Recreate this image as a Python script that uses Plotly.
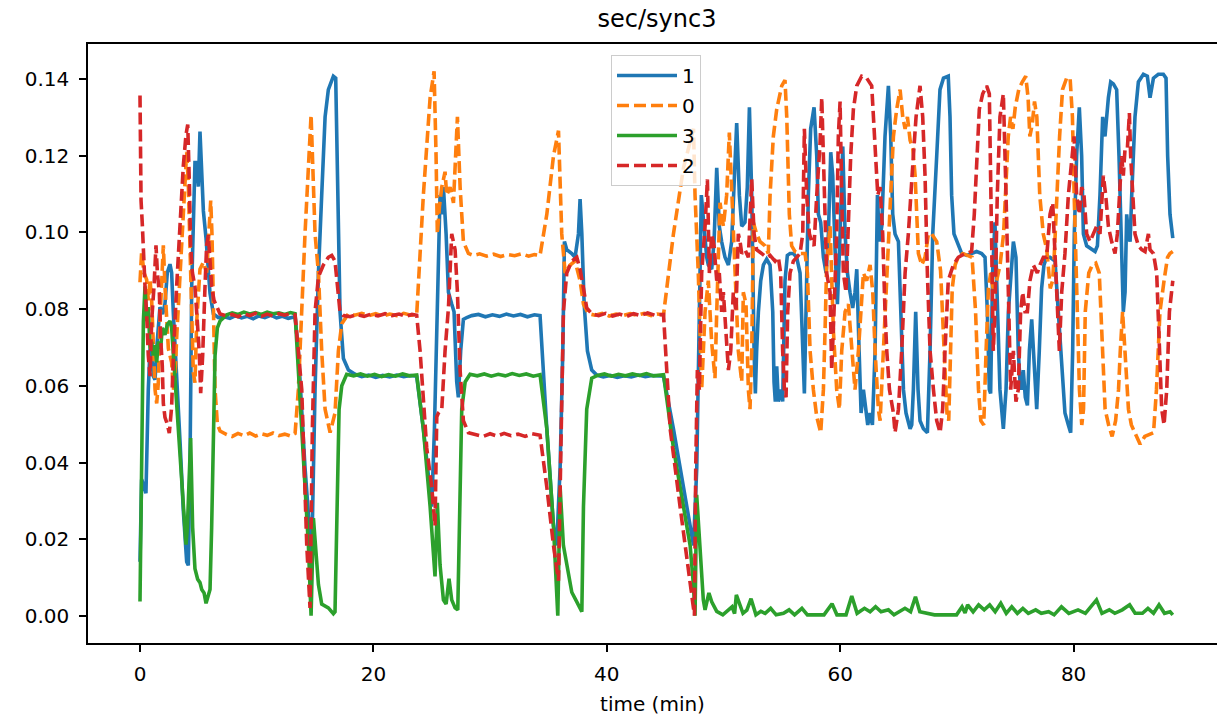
import plotly.graph_objects as go

# ---------------- data (time in minutes, value in sec) ----------------
t_s1 = [0.00, 0.14, 0.34, 0.51, 0.71, 0.86, 1.00, 1.14, 1.29, 1.43, 1.71, 1.94, 2.14, 2.34, 2.57, 2.71, 2.86, 3.14, 3.43, 3.71,
        4.00, 4.14, 4.29, 4.43, 4.57, 4.71, 4.86, 5.00, 5.14, 5.29, 5.43, 5.66, 5.86, 6.00, 6.29, 6.71,
        7.2, 7.7, 8.2, 8.7, 9.2, 9.7, 10.2, 10.7, 11.2, 11.7, 12.2, 12.7, 13.29,
        13.57, 14.14, 14.57, 14.71, 15.00, 15.29, 15.57, 15.86, 16.14, 16.57, 16.77, 16.94, 17.14, 17.43, 17.86, 18.43,
        19.0, 19.6, 20.2, 20.8, 21.4, 22.0, 22.6, 23.2, 23.71,
        24.28, 25.00, 25.23, 25.48, 25.71, 25.86, 26.00, 26.23, 26.43, 26.71, 26.91, 27.14, 27.28, 27.48, 27.71, 28.00, 28.43,
        29.0, 29.6, 30.2, 30.8, 31.4, 32.0, 32.6, 33.2, 33.8, 34.28,
        34.86, 35.43, 35.71, 36.00, 36.23, 36.37, 36.57, 37.00, 37.28, 37.57, 37.71, 37.86, 38.06, 38.34, 38.71, 39.14,
        39.7, 40.3, 40.9, 41.5, 42.1, 42.7, 43.3, 43.9, 44.86,
        45.71, 46.57, 47.43, 47.71, 47.94, 48.10,
        48.33, 48.56, 48.70, 48.99, 49.19, 49.42, 49.64, 49.84, 50.13, 50.42, 50.70, 50.99, 51.13, 51.36, 51.56, 51.84, 52.04,
        52.22, 52.42, 52.62, 52.73, 52.84, 52.99, 53.19, 53.42, 53.70, 53.99, 54.22, 54.33, 54.44, 54.56, 54.70, 54.90, 55.07,
        55.27, 55.47, 55.70, 55.99, 56.27, 56.56, 56.79, 56.93, 57.07, 57.27, 57.47, 57.76, 57.99, 58.13, 58.33, 58.56, 58.79,
        58.99, 59.19, 59.36, 59.56, 59.76, 59.99, 60.22, 60.42, 60.62, 60.84, 61.07, 61.27, 61.42, 61.62, 61.79, 61.99, 62.19,
        62.36, 62.56, 62.76, 62.99, 63.19, 63.36, 63.56, 63.84, 64.13, 64.33, 64.50, 64.70, 64.99, 65.42, 65.64, 65.99, 66.13,
        66.27, 66.47, 66.67, 66.84, 67.13, 67.47, 67.70, 67.93, 68.27, 68.55, 68.85, 69.26,
        69.41, 69.55, 69.75, 70.12, 70.41, 70.84, 71.26, 71.69, 72.12, 72.41, 72.61, 72.78, 72.89, 73.06, 73.26, 73.46, 73.69,
        73.98, 74.21, 74.41, 74.61, 74.84, 75.06, 75.26, 75.41, 75.55, 75.69, 75.86, 76.04, 76.21, 76.41, 76.61, 76.84, 77.06,
        77.26, 77.46, 77.69, 77.98, 78.41, 78.69, 78.98, 79.26, 79.55, 79.75, 79.92, 80.06, 80.26, 80.49, 80.69, 80.84, 81.12,
        81.55, 81.84, 82.04, 82.26, 82.49, 82.69, 82.98, 83.18, 83.41, 83.69, 83.89, 84.04, 84.18, 84.26, 84.41, 84.55, 84.69,
        84.84, 84.98, 85.26, 85.55, 85.98, 86.32, 86.55, 86.84, 87.26, 87.69, 87.92, 88.06, 88.26, 88.50]
v_s1 = [0.0141, 0.0356, 0.0338, 0.0320, 0.0590, 0.0697, 0.0679, 0.0625, 0.0616, 0.0697, 0.0805, 0.0787, 0.0814, 0.0895, 0.0917, 0.0895, 0.0787, 0.0634, 0.0455, 0.0275,
        0.0141, 0.0132, 0.0410, 0.0859, 0.1038, 0.1182, 0.1182, 0.1119, 0.1263, 0.1173, 0.1056, 0.0984, 0.0904, 0.0841, 0.0787, 0.0778,
        0.0780, 0.0776, 0.0783, 0.0777, 0.0781, 0.0775, 0.0782, 0.0778, 0.0784, 0.0777, 0.0781, 0.0776, 0.0780,
        0.0691, 0.0387, 0.0184, 0.0150, 0.0590, 0.0894, 0.1097, 0.1301, 0.1372, 0.1407, 0.1402, 0.1097, 0.0793, 0.0671, 0.0641, 0.0630,
        0.0624, 0.0628, 0.0622, 0.0627, 0.0623, 0.0628, 0.0624, 0.0627, 0.0625,
        0.0488, 0.0285, 0.0488, 0.0793, 0.1097, 0.1047, 0.1118, 0.0996, 0.0844, 0.0813, 0.0793, 0.0610, 0.0570, 0.0691, 0.0773, 0.0778, 0.0783,
        0.0786, 0.0780, 0.0785, 0.0781, 0.0787, 0.0782, 0.0786, 0.0780, 0.0785, 0.0783,
        0.0488, 0.0235, 0.0184, 0.0387, 0.0691, 0.0976, 0.0955, 0.0945, 0.0935, 0.0996, 0.1087, 0.0996, 0.0813, 0.0691, 0.0641, 0.0628,
        0.0623, 0.0627, 0.0622, 0.0626, 0.0623, 0.0628, 0.0624, 0.0627, 0.0625,
        0.0488, 0.0336, 0.0184, 0.0387, 0.0793, 0.1097,
        0.1016, 0.0935, 0.0915, 0.0904, 0.0976, 0.1168, 0.1016, 0.0976, 0.0935, 0.0915, 0.0976, 0.1219, 0.1285, 0.1097, 0.1016, 0.1026, 0.1118,
        0.1326, 0.1097, 0.0691, 0.0580, 0.0691, 0.0793, 0.0874, 0.0915, 0.0930, 0.0915, 0.0793, 0.0610, 0.0559, 0.0651, 0.0559, 0.0590, 0.0559,
        0.0874, 0.0940, 0.0945, 0.0945, 0.0935, 0.0894, 0.0691, 0.0580, 0.0793, 0.1097, 0.1270, 0.1326, 0.1199, 0.1047, 0.1026, 0.0935, 0.0894,
        0.0996, 0.1209, 0.1148, 0.0955, 0.0813, 0.0996, 0.1224, 0.0996, 0.0894, 0.0844, 0.0803, 0.0844, 0.0904, 0.0691, 0.0529, 0.0590, 0.0529,
        0.0498, 0.0529, 0.0498, 0.0691, 0.1097, 0.0976, 0.1016, 0.1250, 0.1382, 0.1250, 0.1047, 0.0996, 0.0976, 0.0590, 0.0529, 0.0488, 0.0498,
        0.0590, 0.0793, 0.0590, 0.0509, 0.0488, 0.0478, 0.0691, 0.0996, 0.1199, 0.1372, 0.1402, 0.1407,
        0.1301, 0.1097, 0.0996, 0.0965, 0.0945, 0.0940, 0.0945, 0.0950, 0.0945, 0.0935, 0.0793, 0.0590, 0.0580, 0.0894, 0.1026, 0.0793, 0.0590,
        0.0488, 0.0590, 0.0793, 0.0894, 0.0976, 0.0935, 0.0691, 0.0610, 0.0590, 0.0641, 0.0570, 0.0549, 0.0691, 0.0773, 0.0641, 0.0539, 0.0691,
        0.0854, 0.0915, 0.0935, 0.0935, 0.0925, 0.0793, 0.0641, 0.0529, 0.0498, 0.0478, 0.0691, 0.0996, 0.1199, 0.1326, 0.1199, 0.0996, 0.0965,
        0.0955, 0.0950, 0.0965, 0.1097, 0.1301, 0.1250, 0.1351, 0.1392, 0.1387, 0.1372, 0.1199, 0.0996, 0.0894, 0.0793, 0.0844, 0.1047, 0.0996,
        0.0976, 0.1097, 0.1301, 0.1392, 0.1412, 0.1407, 0.1351, 0.1402, 0.1412, 0.1412, 0.1402, 0.1199, 0.1047, 0.0985]

t_s0 = [0.00, 0.14, 0.34, 0.57, 0.71, 0.86, 1.00, 1.14, 1.29, 1.43, 1.57, 1.71, 1.86, 2.00, 2.14, 2.29, 2.43, 2.57, 2.71, 2.86,
        3.00, 3.14, 3.43, 3.71, 4.00, 4.14, 4.29, 4.43, 4.57, 4.71, 4.86, 5.14, 5.43, 5.71, 5.94, 6.06, 6.17, 6.29, 6.43, 6.63,
        6.86, 7.43,
        7.9, 8.4, 8.9, 9.4, 9.9, 10.4, 10.9, 11.4, 11.9, 12.4, 12.9, 13.29,
        13.57, 14.14, 14.66, 15.00, 15.29, 15.57, 15.86, 16.29, 16.71, 17.00, 17.29, 17.86,
        18.4, 19.0, 19.6, 20.2, 20.8, 21.4, 22.0, 22.6, 23.2, 23.71,
        24.28, 24.86, 25.20, 25.37, 25.48, 25.66, 25.86, 26.14, 26.28, 26.57, 26.86, 27.20, 27.43, 27.71, 28.14, 28.57,
        29.1, 29.7, 30.3, 30.9, 31.5, 32.1, 32.7, 33.3, 33.8, 34.28,
        34.86, 35.43, 35.86, 36.14, 36.43, 36.86, 37.28, 37.71, 38.00, 38.43,
        39.0, 39.6, 40.2, 40.8, 41.4, 42.0, 42.6, 43.2, 43.8, 44.3, 44.86,
        45.71, 46.57, 47.43, 47.56, 47.84, 48.13, 48.42, 48.70, 48.99, 49.27, 49.42, 49.70, 49.99, 50.27, 50.50, 50.70, 50.99,
        51.27, 51.56, 51.70, 51.93, 52.13, 52.27, 52.42, 52.56, 52.84, 53.13, 53.56, 53.84, 53.99, 54.27, 54.56, 54.99, 55.27,
        55.42, 55.64, 55.84, 56.13, 56.56, 56.99, 57.19, 57.42, 57.70, 57.99, 58.33, 58.56, 58.70, 58.84, 59.13, 59.27, 59.42,
        59.70, 59.93, 60.13, 60.42, 60.70, 60.99, 61.27, 61.56, 61.84, 61.99, 62.27, 62.56, 62.79, 62.99, 63.27, 63.42, 63.70,
        63.99, 64.27, 64.56, 64.84, 65.13, 65.36, 65.56, 65.76, 65.99, 66.22, 66.42, 66.70, 66.99, 67.27, 67.56, 67.84, 68.27,
        68.60, 68.90, 69.15, 69.30, 69.45, 69.60, 69.85, 70.10, 70.50, 70.90, 71.30, 71.60, 71.85, 72.05, 72.30, 72.50, 72.70,
        72.90, 73.10, 73.40, 73.70, 74.00, 74.20, 74.40, 74.60, 74.80, 75.00, 75.30, 75.60, 75.90, 76.10, 76.25, 76.45, 76.65,
        76.85, 77.10, 77.40, 77.70, 78.00, 78.20, 78.35, 78.55, 78.80, 79.05, 79.40, 79.70, 79.90, 80.05, 80.30, 80.50, 80.70,
        80.85, 81.00, 81.30, 81.60, 81.90, 82.20, 82.50, 82.70, 83.00, 83.30, 83.60, 83.85, 84.00, 84.20, 84.40, 84.70, 84.95,
        85.40, 85.70, 86.10, 86.50, 86.85, 87.10, 87.40, 87.75, 88.05, 88.25, 88.50]
v_s0 = [0.0870, 0.0949, 0.0895, 0.0877, 0.0823, 0.0877, 0.0823, 0.0724, 0.0590, 0.0554, 0.0608, 0.0769, 0.0895, 0.0966, 0.0859, 0.0769, 0.0697, 0.0679, 0.0661, 0.0590,
        0.0616, 0.0724, 0.0904, 0.1056, 0.1210, 0.1128, 0.0949, 0.0859, 0.0634, 0.0608, 0.0769, 0.0904, 0.0922, 0.0895, 0.1038, 0.1083, 0.0993, 0.0769, 0.0590, 0.0500,
        0.0482, 0.0473,
        0.0468, 0.0476, 0.0470, 0.0477, 0.0469, 0.0475, 0.0471, 0.0477, 0.0470, 0.0474, 0.0469, 0.0476,
        0.0590, 0.0996, 0.1306, 0.0996, 0.0894, 0.0691, 0.0539, 0.0478, 0.0529, 0.0691, 0.0762, 0.0788,
        0.0784, 0.0789, 0.0783, 0.0788, 0.0782, 0.0787, 0.0783, 0.0789, 0.0784, 0.0786,
        0.1097, 0.1351, 0.1420, 0.1199, 0.0996, 0.1067, 0.1118, 0.1158, 0.1097, 0.1118, 0.1077, 0.1301, 0.1118, 0.0976, 0.0945, 0.0940,
        0.0944, 0.0938, 0.0943, 0.0937, 0.0942, 0.0939, 0.0944, 0.0938, 0.0942, 0.0940,
        0.1047, 0.1199, 0.1265, 0.0996, 0.0894, 0.0915, 0.0925, 0.0874, 0.0813, 0.0788,
        0.0784, 0.0789, 0.0782, 0.0787, 0.0783, 0.0788, 0.0784, 0.0789, 0.0783, 0.0787, 0.0785,
        0.0996, 0.1168, 0.1270, 0.1097, 0.0894, 0.0590, 0.0793, 0.0874, 0.0712, 0.0620, 0.0793, 0.1077, 0.1016, 0.1097, 0.1260, 0.1097, 0.0894,
        0.0691, 0.0610, 0.0844, 0.0813, 0.0590, 0.0539, 0.0691, 0.1026, 0.0996, 0.0976, 0.0965, 0.0945, 0.1097, 0.1250, 0.1321, 0.1382, 0.1397,
        0.1301, 0.1047, 0.0965, 0.0950, 0.0945, 0.0945, 0.0894, 0.0691, 0.0590, 0.0519, 0.0478, 0.0590, 0.0742, 0.0915, 0.1016, 0.0894, 0.0742,
        0.0590, 0.0539, 0.0691, 0.0793, 0.0813, 0.0691, 0.0590, 0.0691, 0.0844, 0.0894, 0.0874, 0.0915, 0.0844, 0.0691, 0.0539, 0.0509, 0.0691,
        0.0894, 0.1097, 0.1250, 0.1321, 0.1372, 0.1301, 0.1270, 0.1301, 0.1240, 0.1219, 0.1148, 0.0945, 0.0915, 0.0935, 0.0996, 0.0996, 0.0976,
        0.0900, 0.0691, 0.0529, 0.0509, 0.0691, 0.0854, 0.0915, 0.0935, 0.0945, 0.0940, 0.0935, 0.0793, 0.0590, 0.0509, 0.0498, 0.0691, 0.0854,
        0.0894, 0.0854, 0.0874, 0.0915, 0.0996, 0.1148, 0.1250, 0.1301, 0.1270, 0.1326, 0.1372, 0.1392, 0.1407, 0.1351, 0.1250, 0.1280, 0.1341,
        0.1301, 0.1097, 0.0996, 0.0955, 0.0854, 0.0874, 0.0945, 0.1097, 0.1250, 0.1372, 0.1402, 0.1402, 0.1301, 0.1097, 0.0793, 0.0590, 0.0498,
        0.0539, 0.0793, 0.0894, 0.0915, 0.0920, 0.0894, 0.0691, 0.0539, 0.0498, 0.0468, 0.0509, 0.0590, 0.0691, 0.0793, 0.0691, 0.0539, 0.0498,
        0.0468, 0.0448, 0.0468, 0.0473, 0.0478, 0.0590, 0.0793, 0.0874, 0.0935, 0.0945, 0.0950]

t_s3 = [0.00, 0.14, 0.29, 0.43, 0.57, 0.71, 0.86, 1.00, 1.14, 1.29, 1.43, 1.57, 1.77, 1.91, 2.14, 2.34, 2.57, 2.71, 2.86, 3.14,
        3.43, 3.71, 3.94, 4.06, 4.17, 4.34, 4.51, 4.71, 4.94, 5.14, 5.29, 5.49, 5.66, 5.86, 6.00, 6.14, 6.29, 6.43, 6.63, 6.86, 7.43,
        7.9, 8.4, 8.9, 9.4, 9.9, 10.4, 10.9, 11.4, 11.9, 12.4, 12.9, 13.29,
        13.86, 14.43, 14.66, 14.86, 15.29, 15.57, 16.14, 16.57, 16.71, 16.86, 17.06, 17.29, 17.71,
        18.3, 18.9, 19.5, 20.1, 20.7, 21.3, 21.9, 22.5, 23.1, 23.71,
        24.28, 24.86, 25.28, 25.48, 25.71, 26.00, 26.23, 26.48, 26.71, 27.00, 27.23, 27.37, 27.57, 27.86, 28.28,
        28.9, 29.5, 30.1, 30.7, 31.3, 31.9, 32.5, 33.1, 33.7, 34.28,
        34.86, 35.43, 35.80, 36.00, 36.28, 36.57, 37.00, 37.43, 37.71, 37.86, 38.00, 38.28, 38.71,
        39.2, 39.8, 40.4, 41.0, 41.6, 42.2, 42.8, 43.4, 44.0, 44.86,
        45.71, 46.57, 47.14, 47.42, 47.56, 47.70, 47.99, 48.27, 48.42, 48.75, 48.99, 49.42, 49.94, 50.73, 50.95, 51.10, 51.67,
        52.00, 52.36, 52.78, 53.20, 53.57, 54.04, 54.51, 55.14, 55.62, 56.09, 56.72, 57.19, 58.61, 59.30, 59.72, 60.50, 60.99,
        61.45, 62.08, 62.56, 63.03, 63.50, 64.13, 64.61, 65.55, 66.03, 66.45, 66.82, 67.45, 68.08, 69.97, 70.44, 70.70, 70.92,
        71.39, 71.86, 72.34, 72.81, 73.28, 73.76, 74.23, 74.70, 75.18, 75.65, 76.12, 76.75, 77.23, 77.86, 78.33, 78.96, 79.59,
        80.38, 81.01, 81.96, 82.43, 83.06, 83.53, 84.17, 84.80, 85.27, 85.90, 86.37, 86.85, 87.32, 87.79, 88.27, 88.50]
v_s3 = [0.0038, 0.0410, 0.0769, 0.0859, 0.0769, 0.0805, 0.0697, 0.0715, 0.0679, 0.0706, 0.0661, 0.0715, 0.0697, 0.0751, 0.0733, 0.0760, 0.0769, 0.0751, 0.0679, 0.0545,
        0.0410, 0.0275, 0.0186, 0.0231, 0.0320, 0.0464, 0.0231, 0.0123, 0.0096, 0.0087, 0.0069, 0.0060, 0.0033, 0.0060, 0.0069, 0.0231, 0.0500, 0.0679, 0.0751, 0.0769, 0.0785,
        0.0790, 0.0786, 0.0792, 0.0787, 0.0791, 0.0786, 0.0792, 0.0788, 0.0790, 0.0786, 0.0791, 0.0788,
        0.0488, 0.0184, 0.0001, 0.0255, 0.0082, 0.0031, 0.0021, 0.0006, 0.0011, 0.0285, 0.0539, 0.0600, 0.0630,
        0.0626, 0.0631, 0.0625, 0.0630, 0.0624, 0.0629, 0.0625, 0.0631, 0.0626, 0.0628,
        0.0488, 0.0285, 0.0103, 0.0295, 0.0133, 0.0042, 0.0031, 0.0097, 0.0042, 0.0021, 0.0016, 0.0285, 0.0539, 0.0610, 0.0630,
        0.0626, 0.0631, 0.0625, 0.0630, 0.0626, 0.0632, 0.0627, 0.0631, 0.0625, 0.0629,
        0.0488, 0.0235, 0.0001, 0.0336, 0.0184, 0.0133, 0.0062, 0.0037, 0.0021, 0.0011, 0.0285, 0.0539, 0.0620,
        0.0627, 0.0631, 0.0625, 0.0630, 0.0626, 0.0631, 0.0627, 0.0632, 0.0626, 0.0629,
        0.0438, 0.0285, 0.0184, 0.0082, 0.0001, 0.0316, 0.0184, 0.0042, 0.0016, 0.0060, 0.0037, 0.0012, 0.0003, 0.0024, 0.0006, 0.0055, 0.0007,
        0.0015, 0.0045, 0.0003, 0.0012, 0.0007, 0.0020, 0.0003, 0.0007, 0.0016, 0.0003, 0.0020, 0.0003, 0.0003, 0.0032, 0.0003, 0.0003, 0.0052,
        0.0007, 0.0020, 0.0011, 0.0024, 0.0011, 0.0016, 0.0003, 0.0020, 0.0011, 0.0050, 0.0011, 0.0007, 0.0003, 0.0003, 0.0024, 0.0008, 0.0029,
        0.0011, 0.0029, 0.0016, 0.0029, 0.0011, 0.0033, 0.0007, 0.0024, 0.0007, 0.0020, 0.0007, 0.0016, 0.0007, 0.0011, 0.0003, 0.0024, 0.0007,
        0.0016, 0.0007, 0.0042, 0.0007, 0.0016, 0.0007, 0.0016, 0.0029, 0.0007, 0.0007, 0.0020, 0.0007, 0.0029, 0.0007, 0.0011, 0.0003]

t_s2 = [0.00, 0.09, 0.20, 0.29, 0.43, 0.57, 0.71, 0.86, 1.00, 1.20, 1.37, 1.49, 1.66, 1.77, 1.91, 2.00, 2.14, 2.34, 2.51, 2.71,
        2.86, 3.14, 3.43, 3.71, 3.94, 4.09, 4.23, 4.34, 4.49, 4.71, 4.91, 5.09, 5.20, 5.37, 5.57, 5.71, 5.86, 6.00, 6.14, 6.34,
        6.57, 6.86, 7.43,
        7.9, 8.4, 8.9, 9.4, 9.9, 10.4, 10.9, 11.4, 11.9, 12.4, 12.9, 13.29,
        13.86, 14.29, 14.57, 14.77, 15.00, 15.29, 15.71, 16.14, 16.43, 16.71, 16.94, 17.14, 17.43,
        18.0, 18.6, 19.2, 19.8, 20.4, 21.0, 21.6, 22.2, 22.8, 23.3, 23.71,
        24.00, 24.57, 25.00, 25.28, 25.43, 25.57, 25.86, 26.14, 26.43, 26.71, 27.00, 27.20, 27.43, 27.71, 28.14, 28.86,
        29.4, 30.0, 30.6, 31.2, 31.8, 32.4, 33.0, 33.6, 34.28,
        34.86, 35.43, 35.86, 36.14, 36.28, 36.57, 37.00, 37.43, 37.71, 38.00, 38.28, 38.71,
        39.3, 39.9, 40.5, 41.1, 41.7, 42.3, 42.9, 43.5, 44.1, 44.86,
        45.43, 46.28, 47.14, 47.51, 47.62, 47.76, 47.93, 48.13, 48.42, 48.62, 48.79, 48.99, 49.19, 49.42, 49.64, 49.84, 49.99,
        50.22, 50.42, 50.62, 50.84, 51.07, 51.27, 51.42, 51.56, 51.84, 52.13, 52.42, 52.62, 52.84, 53.27, 53.70, 53.99, 54.42,
        54.70, 54.90, 55.07, 55.22, 55.36, 55.50, 55.70, 55.99, 56.27, 56.56, 56.79, 56.93, 57.13, 57.36, 57.56, 57.76, 57.99,
        58.27, 58.42, 58.62, 58.84, 59.13, 59.27, 59.47, 59.70, 59.84, 59.99, 60.13, 60.27, 60.50, 60.70, 60.90, 61.13, 61.42,
        61.84, 62.27, 62.70, 62.99, 63.22, 63.42, 63.64, 63.84, 63.99, 64.22, 64.56, 64.70, 64.99, 65.27, 65.56, 65.84, 66.13,
        66.27, 66.50, 66.84, 67.07, 67.27, 67.47, 67.70, 67.99, 68.27, 68.56, 68.78, 68.98, 69.26, 69.69, 70.12, 70.41, 70.84,
        71.26, 71.49, 71.69, 71.92, 72.21, 72.55, 72.78, 72.98, 73.12, 73.26, 73.46, 73.69, 73.98, 74.21, 74.41, 74.61, 74.84,
        75.06, 75.26, 75.46, 75.64, 75.84, 76.04, 76.26, 76.55, 76.89, 77.12, 77.41, 77.69, 77.98, 78.21, 78.41, 78.61, 78.78,
        78.98, 79.26, 79.55, 79.84, 80.04, 80.26, 80.49, 80.69, 80.89, 81.12, 81.41, 81.69, 81.98, 82.26, 82.55, 82.75, 82.98,
        83.26, 83.55, 83.75, 83.92, 84.12, 84.26, 84.41, 84.61, 84.78, 84.89, 85.06, 85.26, 85.55, 85.84, 86.12, 86.41, 86.55,
        86.84, 87.12, 87.35, 87.55, 87.75, 87.98, 88.21, 88.50]
v_s2 = [0.1357, 0.1083, 0.1020, 0.0931, 0.0859, 0.0787, 0.0679, 0.0625, 0.0769, 0.0859, 0.0966, 0.0895, 0.0841, 0.0724, 0.0652, 0.0554, 0.0518, 0.0500, 0.0477, 0.0545,
        0.0679, 0.0859, 0.1038, 0.1173, 0.1254, 0.1281, 0.1128, 0.0966, 0.0895, 0.0859, 0.0769, 0.0679, 0.0581, 0.0679, 0.0859, 0.0966, 0.0993, 0.0931, 0.0859, 0.0823,
        0.0805, 0.0787, 0.0782,
        0.0786, 0.0780, 0.0788, 0.0783, 0.0789, 0.0781, 0.0787, 0.0782, 0.0788, 0.0784, 0.0789, 0.0785,
        0.0590, 0.0184, 0.0021, 0.0488, 0.0793, 0.0884, 0.0915, 0.0935, 0.0940, 0.0925, 0.0854, 0.0793, 0.0783,
        0.0780, 0.0786, 0.0781, 0.0787, 0.0782, 0.0788, 0.0783, 0.0787, 0.0781, 0.0786, 0.0784,
        0.0691, 0.0438, 0.0336, 0.0235, 0.0519, 0.0529, 0.0539, 0.0691, 0.0803, 0.0996, 0.0955, 0.0844, 0.0641, 0.0509, 0.0478, 0.0473,
        0.0468, 0.0475, 0.0469, 0.0476, 0.0470, 0.0474, 0.0468, 0.0475, 0.0471,
        0.0336, 0.0184, 0.0092, 0.0488, 0.0793, 0.0894, 0.0925, 0.0935, 0.0904, 0.0854, 0.0803, 0.0788,
        0.0783, 0.0789, 0.0782, 0.0787, 0.0781, 0.0788, 0.0783, 0.0790, 0.0784, 0.0786,
        0.0488, 0.0285, 0.0082, 0.0001, 0.0387, 0.0641, 0.0590, 0.0894, 0.1016, 0.1138, 0.0894, 0.0996, 0.0965, 0.0874, 0.0894, 0.0793, 0.0844,
        0.0742, 0.0641, 0.0691, 0.0844, 0.0793, 0.0996, 0.0976, 0.0945, 0.0955, 0.0935, 0.1138, 0.0996, 0.0955, 0.0945, 0.0935, 0.0940, 0.0925,
        0.0935, 0.0894, 0.0691, 0.0590, 0.0570, 0.0793, 0.0894, 0.0925, 0.0935, 0.0945, 0.0996, 0.1270, 0.1097, 0.0996, 0.0976, 0.0965, 0.1097,
        0.1230, 0.1351, 0.1097, 0.0894, 0.0844, 0.0641, 0.0793, 0.0996, 0.1250, 0.1341, 0.1097, 0.0894, 0.0844, 0.1016, 0.1199, 0.1321, 0.1382,
        0.1407, 0.1402, 0.1382, 0.1199, 0.1097, 0.1118, 0.0996, 0.0793, 0.0691, 0.0590, 0.0529, 0.0478, 0.0539, 0.0691, 0.0894, 0.0996, 0.1148,
        0.1199, 0.1301, 0.1382, 0.1301, 0.1148, 0.0894, 0.0691, 0.0590, 0.0509, 0.0478, 0.0539, 0.0691, 0.0874, 0.0915, 0.0935, 0.0940, 0.0945,
        0.0950, 0.1047, 0.1199, 0.1321, 0.1361, 0.1382, 0.1361, 0.0996, 0.0691, 0.0793, 0.1097, 0.1301, 0.1361, 0.1097, 0.0793, 0.0590, 0.0691,
        0.0559, 0.0590, 0.0793, 0.0844, 0.0793, 0.0793, 0.0874, 0.0915, 0.0894, 0.0915, 0.0935, 0.0935, 0.1047, 0.1077, 0.0945, 0.0793, 0.0691,
        0.0844, 0.0945, 0.1097, 0.1199, 0.1250, 0.1097, 0.1047, 0.1118, 0.1097, 0.0996, 0.0976, 0.0996, 0.1016, 0.0996, 0.1148, 0.1097, 0.1016,
        0.0976, 0.0945, 0.0996, 0.1077, 0.1199, 0.1148, 0.1219, 0.1219, 0.1311, 0.1199, 0.1097, 0.0996, 0.0965, 0.0955, 0.0950, 0.0996, 0.0955,
        0.0945, 0.0894, 0.0691, 0.0539, 0.0498, 0.0590, 0.0793, 0.0874]

series_names = ["1", "0", "3", "2"]
series_colors = ["#1f77b4", "#ff7f0e", "#2ca02c", "#d62728"]
series_dash = ["solid", "12px,5px", "solid", "12px,5px"]
series_t = [t_s1, t_s0, t_s3, t_s2]
series_v = [v_s1, v_s0, v_s3, v_s2]

x_ticks = [0, 20, 40, 60, 80]
y_ticks = [0.00, 0.02, 0.04, 0.06, 0.08, 0.10, 0.12, 0.14]

FONT = "DejaVu Sans"

fig = go.Figure()
for i, name in enumerate(series_names):
    fig.add_trace(go.Scatter(
        x=series_t[i], y=series_v[i], mode="lines", name=name,
        legendgroup=name,
        line=dict(color=series_colors[i], width=3.6, dash=series_dash[i]),
    ))

fig.update_layout(
    width=1217, height=718,
    margin=dict(l=88, r=0, t=44, b=75, pad=0, autoexpand=False),
    paper_bgcolor="white", plot_bgcolor="white",
    font=dict(family=FONT, size=20, color="black"),
    title=dict(text="sec/sync3", x=0.504, xanchor="center", xref="paper",
               y=1 - 19 / 718, yanchor="middle", yref="container", automargin=False,
               font=dict(family=FONT, size=24, color="black")),
    showlegend=True,
    legend=dict(x=(611 - 88) / 1129, y=(643 - 55) / 599, xanchor="left", yanchor="top",
                bgcolor="rgba(255,255,255,0.8)", bordercolor="#cccccc", borderwidth=1,
                font=dict(family=FONT, size=20, color="black"),
                traceorder="grouped", tracegroupgap=1, itemwidth=60),
)

fig.update_xaxes(
    range=[(88 - 140) / 11.67, (1217 - 140) / 11.67],
    automargin=False,
    tickvals=x_ticks, ticktext=[str(v) for v in x_ticks],
    ticks="outside", ticklen=7, tickwidth=1.5, tickcolor="black",
    showline=True, linecolor="black", linewidth=1.5, mirror=True,
    showgrid=False, zeroline=False,
    tickfont=dict(family=FONT, size=20, color="black"),
    ticklabelstandoff=5,
    title=dict(text="time (min)", font=dict(family=FONT, size=20, color="black"), standoff=12),
)
fig.update_yaxes(
    range=[-0.00704, 0.1491],
    automargin=False,
    tickvals=y_ticks, ticktext=[f"{v:.2f}" for v in y_ticks],
    ticks="outside", ticklen=7, tickwidth=1.5, tickcolor="black",
    showline=True, linecolor="black", linewidth=1.5, mirror=False,
    showgrid=False, zeroline=False,
    tickfont=dict(family=FONT, size=20, color="black"),
    ticklabelstandoff=6,
)

fig.write_html("out.html", config={"displayModeBar": False},
               post_script="document.body.style.margin='0px';")
